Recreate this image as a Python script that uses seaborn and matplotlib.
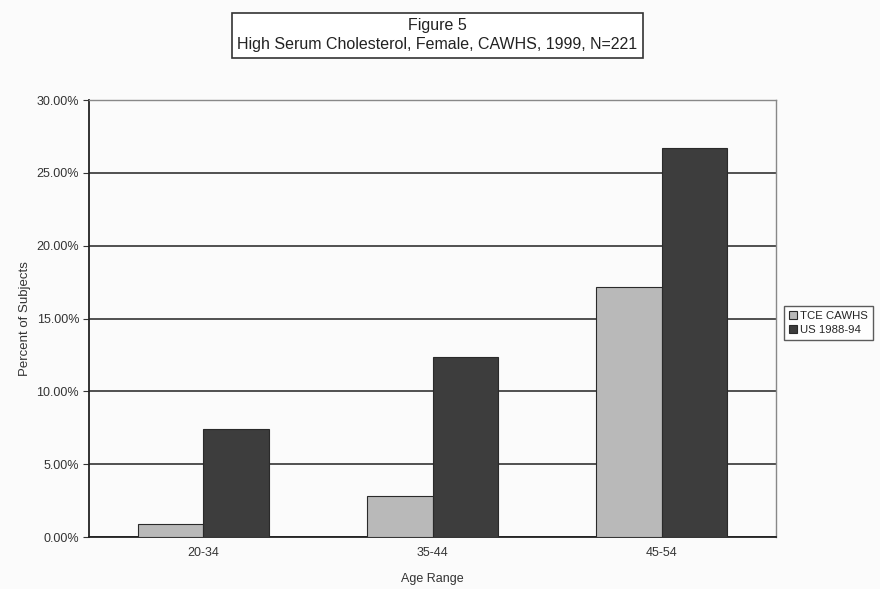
import pandas as pd
import matplotlib.pyplot as plt
import matplotlib.ticker as mtick
import seaborn as sns

age_ranges = ['20-34', '35-44', '45-54']
tce_cawhs = [0.9, 2.8, 17.2]
us_1988_94 = [7.4, 12.4, 26.7]
series_names = ['TCE CAWHS', 'US 1988-94']
y_ticks = [0, 5, 10, 15, 20, 25, 30]

df = pd.DataFrame({
    'Age Range': age_ranges * 2,
    'Percent': tce_cawhs + us_1988_94,
    'Series': [series_names[0]] * 3 + [series_names[1]] * 3,
})

sns.set_style('white')
plt.rcParams['font.family'] = ['Liberation Sans', 'DejaVu Sans']

fig = plt.figure(figsize=(8.8, 5.89), dpi=100, facecolor='#fbfbfb')
ax = fig.add_axes([0.101, 0.088, 0.781, 0.742])
ax.set_facecolor('#fbfbfb')

sns.barplot(data=df, x='Age Range', y='Percent', hue='Series',
            palette=['#b9b9b9', '#3d3d3d'], width=0.57,
            edgecolor='#2a2a2a', linewidth=0.8, ax=ax, zorder=3)

ax.set_ylim(0, 30)
ax.set_yticks(y_ticks)
ax.yaxis.set_major_formatter(mtick.FuncFormatter(lambda v, p: f'{v:.2f}%'))
ax.grid(axis='y', color='#333333', linewidth=1.2, zorder=0)
ax.set_axisbelow(True)

ax.set_xticks([-0.5, 0.5, 1.5, 2.5], minor=True)
ax.tick_params(axis='x', which='major', length=0, labelsize=9, pad=7, colors='#333333')
ax.tick_params(axis='x', which='minor', length=4, color='#333333')
ax.tick_params(axis='y', length=4, labelsize=9, pad=3, colors='#333333', left=True)
ax.set_xlim(-0.5, 2.5)

for side in ['left', 'bottom']:
    ax.spines[side].set_color('#222222')
    ax.spines[side].set_linewidth(1.3)
for side in ['right', 'top']:
    ax.spines[side].set_color('#888888')
    ax.spines[side].set_linewidth(1.0)

ax.set_xlabel('Age Range', fontsize=9, color='#333333', labelpad=10)
ax.set_ylabel('Percent of Subjects', fontsize=9.5, color='#333333', labelpad=4)

fig.text(0.497, 0.94, 'Figure 5\nHigh Serum Cholesterol, Female, CAWHS, 1999, N=221',
         ha='center', va='center', fontsize=11.5, color='#222222', linespacing=1.35,
         bbox=dict(boxstyle='square,pad=0.35', facecolor='white', edgecolor='#333333', linewidth=1.2))

# legend is clipped by the page edge in the original; keep it just inside here
handles, labels = ax.get_legend_handles_labels()
ax.legend(handles, labels, loc='center left', bbox_to_anchor=(1.008, 0.49),
          fontsize=8.2, frameon=True, fancybox=False, edgecolor='#333333',
          handlelength=0.7, handleheight=0.7, handletextpad=0.3,
          borderpad=0.45, labelspacing=0.35, borderaxespad=0.2)

fig.savefig('out.png', dpi=100, facecolor=fig.get_facecolor())
